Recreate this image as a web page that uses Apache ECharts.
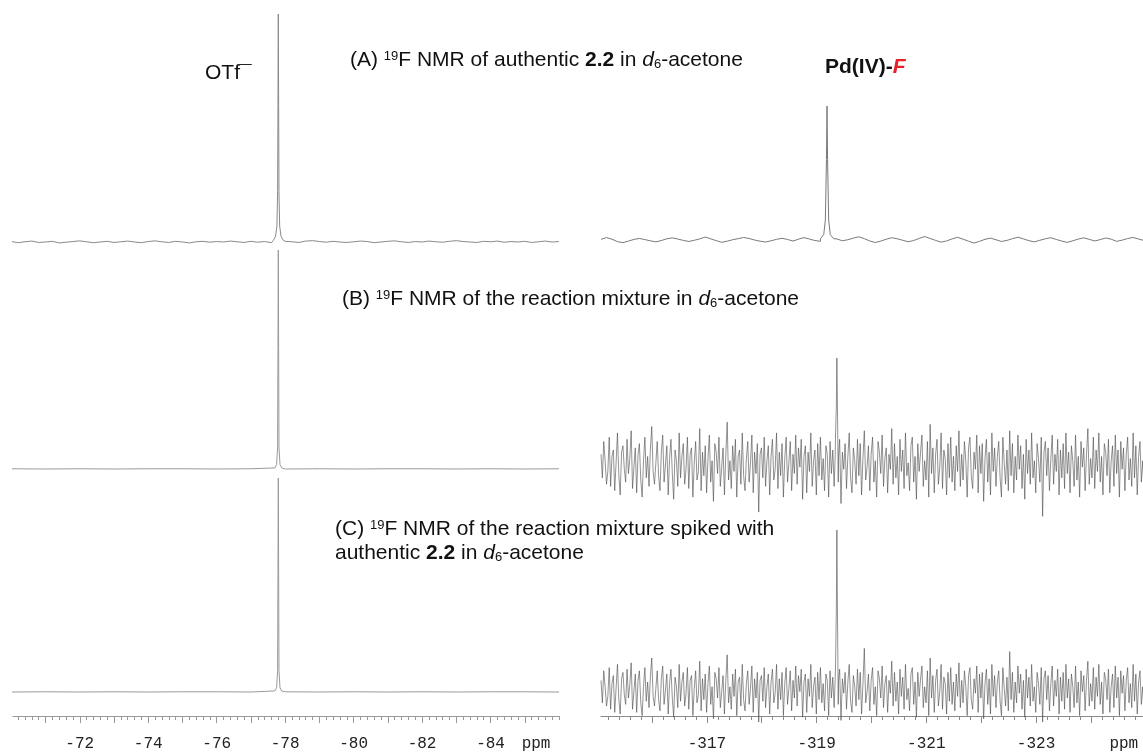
<!DOCTYPE html>
<html>
<head>
<meta charset="utf-8">
<script src="https://cdn.jsdelivr.net/npm/echarts@6/dist/echarts.min.js"></script>
<style>
    html, body { margin: 0; padding: 0; background: #fff; }
    #chart { width: 1143px; height: 755px; }
</style>
</head>
<body>
<div id="chart"></div>
<script>
// ppm windows of the two columns (axes are reversed, as in NMR)
const leftRange = [-86.0, -70.05];
const rightRange = [-324.95, -315.07];

// tick labels
const leftTickLabels = [-72, -74, -76, -78, -80, -82, -84];
const rightTickLabels = [-317, -319, -321, -323];
const leftPpmAt = -85.33;
const rightPpmAt = -324.6;

// baselines, sampled on a regular ppm step from the left edge (intensity: peak top = 100)
const leftStart = -70.0;
const leftStep = 0.2;
const leftABase = [
    0.2,-0.3,0.1,0.4,-0.2,0.0,0.3,-0.4,-0.1,0.2,0.5,0.1,-0.3,0.0,0.3,-0.2,0.1,0.4,0.0,-0.3,
    0.2,0.5,0.1,-0.2,0.3,0.0,-0.4,0.1,0.3,-0.1,0.2,0.0,0.4,0.1,-0.2,0.3,-0.1,0.2,-0.3,0.0,
    0.3,0.1,-0.2,0.4,0.6,0.2,-0.1,0.3,0.0,-0.2,0.1,0.4,0.2,-0.3,0.0,0.3,0.5,0.1,-0.2,0.2,
    0.0,0.4,0.1,-0.1,0.3,0.6,0.2,0.0,-0.2,0.3,0.1,0.4,-0.1,0.2,0.0,0.3,-0.2,0.1,0.4,0.0,0.2
];
const leftFlatStep = 1.0;
const leftBBase = [0.1,0.0,0.1,0.0,0.1,0.1,0.0,0.1,0.0,0.1,0.0,0.1,0.1,0.0,0.1,0.0,0.1];
const leftCBase = [0.0,0.1,0.0,0.1,0.0,0.1,0.1,0.0,0.1,0.0,0.1,0.0,0.1,0.0,0.1,0.1,0.0];

// peaks [ppm, intensity]
const leftAPeak = [[-77.66,0.8],[-77.72,2.5],[-77.76,7],[-77.78,22],[-77.79,60],[-77.80,100],
    [-77.81,60],[-77.82,22],[-77.84,7],[-77.88,2.5],[-77.94,0.8]];
const leftBPeak = [[-77.70,0.5],[-77.75,2],[-77.78,10],[-77.79,55],[-77.80,100],[-77.81,55],
    [-77.82,10],[-77.85,2],[-77.90,0.5]];
const leftCPeak = [[-77.70,0.5],[-77.75,2],[-77.78,10],[-77.79,55],[-77.80,100],[-77.81,55],
    [-77.82,10],[-77.85,2],[-77.90,0.5]];

const rightStart = -315.07;
const rightAStep = 0.1;
const rightABase = [
    0.5,1.8,0.6,-1.2,-2.0,-0.8,0.4,1.2,0.3,-0.6,
    -1.4,-0.4,0.9,1.6,0.7,-0.3,-1.1,-0.2,0.8,2.2,
    0.9,-0.5,-1.7,-0.9,0.2,1.0,1.9,1.1,0.0,-0.9,
    -1.5,-0.6,0.5,1.3,0.4,-0.8,0.6,1.8,0.7,-0.4,
    -1.0,0.3,1.5,0.8,-0.6,0.2,1.4,2.4,1.0,-0.7,
    -1.9,-0.8,0.6,1.7,0.9,-0.2,-1.3,-0.4,1.2,2.6,
    1.1,-0.3,-1.6,-0.7,0.8,2.0,0.6,-0.9,-2.3,-1.0,
    0.5,1.4,0.2,-1.1,-0.3,1.0,2.1,0.8,-0.5,-1.4,
    -0.2,0.9,1.7,0.4,-0.8,-1.8,-0.6,0.7,1.6,0.5,
    -0.7,0.3,1.5,0.6,-1.0,-0.1,1.1,1.9,0.7,-0.4,0.3
];
const rightAPeak = [[-319.07,1],[-319.13,4],[-319.16,15],[-319.18,60],[-319.19,100],
    [-319.20,60],[-319.22,15],[-319.25,4],[-319.31,1]];

const rightNoiseStep = 0.025;
const rightBBase = [
    10,-12,22,4,-18,-6,26,-20,8,14,-24,2,30,-10,-28,12,18,-4,-16,24,
    -8,6,32,-22,-2,16,-26,10,20,-14,-30,4,26,-12,8,-20,14,36,-6,-18,
    2,22,-10,-24,12,28,-16,0,18,-28,6,24,-8,-32,14,4,-20,30,-12,8,
    20,-18,-4,26,-22,10,16,-30,2,22,-14,-6,34,-24,12,-10,18,-26,6,28,
    -16,4,-34,20,12,-8,26,-20,-2,16,-28,10,40,-14,4,-22,18,-6,24,-30,
    8,14,-18,30,-10,-24,6,22,-16,2,28,-26,12,-8,20,-44,10,16,-12,26,
    -20,4,18,-28,8,24,-14,-4,30,-22,12,-10,20,-30,6,26,-16,2,22,-24,
    10,-8,28,-18,16,-2,24,-32,8,18,-26,12,-6,30,-20,4,14,-28,20,-10,
    26,-14,6,-24,18,10,-30,22,-8,14,-20,28,2,-16,24,-36,12,-4,20,-22,
    8,30,-12,-26,16,4,-18,24,-10,20,-28,6,32,-14,-2,18,-24,10,26,-16,
    4,-30,22,12,-8,28,-20,6,16,-26,10,-4,34,-18,20,-12,8,-28,24,-6,
    14,-22,30,-10,2,-24,18,26,-16,8,-32,20,-6,12,28,-20,4,-14,22,-30,
    38,-8,16,-26,10,24,-18,-2,30,-22,14,6,-28,20,-12,26,-16,8,-24,18,
    -6,32,-20,10,-14,22,4,-30,16,26,-10,-22,12,-4,28,-26,18,-8,20,-34,
    6,24,-16,12,-28,30,-6,16,-20,8,22,-12,-30,26,2,-18,14,-24,32,-10,
    20,-26,8,-14,28,-4,18,-22,10,-32,24,-8,14,-18,30,-12,4,-26,20,6,
    -16,26,-48,12,22,-10,16,-24,6,28,-18,10,-6,24,-28,14,-12,20,-22,30,
    -8,12,-26,18,4,-20,28,-14,8,-30,22,-2,16,-24,10,34,-18,6,-12,26,
    -22,14,-6,30,-16,8,-28,20,12,-10,24,-26,4,18,-20,28,-8,14,-30,22,
    -4,16,-24,10,26,-14,6,-20,30,-12,18,-28,8,22,-16,4,-26,20,-10,12,
    6
];
const rightBPeak = [[-319.34,10],[-319.36,55],[-319.37,100],[-319.38,55],[-319.40,8]];

const rightCBase = [
    6,-8,12,2,-10,-4,14,-12,4,9,-14,1,16,-6,-15,7,11,-3,-9,13,
    -5,3,17,-12,-1,10,-14,6,12,-8,-16,2,14,-7,5,-11,8,20,-4,-10,
    1,12,-6,-13,7,15,-9,0,10,-15,4,13,-5,-17,8,2,-11,16,-7,5,
    11,-10,-2,14,-12,6,9,-16,1,12,-8,-3,18,-13,7,-6,10,-14,4,15,
    -9,2,-18,11,7,-5,14,-11,-1,9,-15,6,22,-8,2,-12,10,-4,13,-16,
    5,8,-10,16,-6,-13,4,12,-9,1,15,-14,7,-5,11,-20,6,9,-7,14,
    -11,2,10,-15,5,13,-8,-2,16,-12,7,-6,11,-16,4,14,-9,1,12,-13,
    6,-5,15,-10,9,-1,13,-17,5,10,-14,7,-4,16,-11,2,8,-15,11,-6,
    14,-8,4,-13,10,6,-16,12,-5,8,-11,15,1,-9,13,-19,7,-2,11,-12,
    5,16,-7,-14,9,2,-10,13,-6,11,-15,4,26,-8,-1,10,-13,6,14,-9,
    2,-16,12,7,-5,15,-11,4,9,-14,6,-2,18,-10,11,-7,5,-15,13,-4,
    8,-12,16,-6,1,-13,10,14,-9,5,-17,11,-4,7,15,-11,2,-8,12,-16,
    20,-5,9,-14,6,13,-10,-1,16,-12,8,4,-15,11,-7,14,-9,5,-13,10,
    -4,17,-11,6,-8,12,2,-16,9,14,-6,-12,7,-2,15,-14,10,-5,11,-18,
    4,13,-9,7,-15,16,-4,9,-11,5,12,-7,-16,14,1,-10,8,-13,24,-6,
    11,-14,5,-8,15,-2,10,-12,6,-17,13,-5,8,-10,16,-7,2,-14,11,4,
    -9,14,-20,7,12,-6,9,-13,4,15,-10,6,-4,13,-15,8,-7,11,-12,16,
    -5,7,-14,10,2,-11,15,-8,5,-16,12,-1,9,-13,6,18,-10,4,-7,14,
    -12,8,-4,16,-9,5,-15,11,7,-6,13,-14,2,10,-11,15,-5,8,-16,12,
    -2,9,-13,6,14,-8,4,-11,16,-7,10,-15,5,12,-9,2,-14,11,-6,7,
    3
];
const rightCPeak = [[-319.34,8],[-319.36,50],[-319.37,100],[-319.38,50],[-319.40,6]];

// merge a sampled baseline with a peak, dropping baseline samples under the peak
function trace(start, step, base, peak, gap) {
    let top = peak.reduce((a, p) => (p[1] > a[1] ? p : a), peak[0]);
    let pts = [];
    base.forEach((v, i) => {
        let x = +(start - i * step).toFixed(3);
        if (Math.abs(x - top[0]) > gap) pts.push([x, v]);
    });
    peak.forEach(p => pts.push(p));
    pts.sort((a, b) => b[0] - a[0]);
    return pts;
}

function tickList(from, to, step) {
    let out = [];
    for (let v = from; v >= to - 1e-9; v -= step) out.push(+v.toFixed(2));
    return out;
}

// panels: top pixel of the peak (p100), baseline pixel (p0)
const LEFT = {left: 13, width: 546};
const RIGHT = {left: 601, width: 542};
const panels = [
    {col: LEFT,  range: leftRange,  p100: 14,  p0: 242, yMin: -5,  color: '#8a8a8a', w: 1,
        data: trace(leftStart, leftStep, leftABase, leftAPeak, 0.15)},
    {col: LEFT,  range: leftRange,  p100: 250, p0: 469, yMin: -5,  color: '#9a9a9a', w: 1,
        data: trace(leftStart, leftFlatStep, leftBBase, leftBPeak, 0.15)},
    {col: LEFT,  range: leftRange,  p100: 478, p0: 692, yMin: -5,  color: '#9a9a9a', w: 1,
        data: trace(leftStart, leftFlatStep, leftCBase, leftCPeak, 0.15)},
    {col: RIGHT, range: rightRange, p100: 106, p0: 240, yMin: -5,  color: '#7a7a7a', w: 1,
        data: trace(rightStart, rightAStep, rightABase, rightAPeak, 0.12)},
    {col: RIGHT, range: rightRange, p100: 358, p0: 465, yMin: -60, color: '#4a4a4a', w: 0.6,
        data: trace(rightStart, rightNoiseStep, rightBBase, rightBPeak, 0.02)},
    {col: RIGHT, range: rightRange, p100: 530, p0: 690, yMin: -30, color: '#4a4a4a', w: 0.6,
        data: trace(rightStart, rightNoiseStep, rightCBase, rightCPeak, 0.02)}
];

const grids = [], xAxes = [], yAxes = [], series = [];
panels.forEach((p, i) => {
    grids.push({
        left: p.col.left, width: p.col.width, top: p.p100,
        height: (p.p0 - p.p100) * (100 - p.yMin) / 100,
        containLabel: false, outerBoundsMode: 'none'
    });
    xAxes.push({gridIndex: i, type: 'value', min: p.range[0], max: p.range[1], inverse: true, show: false});
    yAxes.push({gridIndex: i, type: 'value', min: p.yMin, max: 100, show: false});
    series.push({
        type: 'line', xAxisIndex: i, yAxisIndex: i, data: p.data,
        symbol: 'none', showSymbol: false, silent: true, clip: false,
        lineStyle: {color: p.color, width: p.w}
    });
});

// bottom ppm axes: one grid for the fine ticks + labels, one overlay for the 1 ppm ticks
const monoFont = 'Liberation Mono';
function axisPair(col, range, labels, ppmAt, lineColor, fineTicks, coarseTicks) {
    let gi = grids.length;
    grids.push({left: col.left, width: col.width, top: 700, height: 16, containLabel: false, outerBoundsMode: 'none'});
    grids.push({left: col.left, width: col.width, top: 700, height: 16, containLabel: false, outerBoundsMode: 'none'});
    yAxes.push({gridIndex: gi, type: 'value', show: false});
    yAxes.push({gridIndex: gi + 1, type: 'value', show: false});
    xAxes.push({
        gridIndex: gi, type: 'value', min: range[0], max: range[1], inverse: true, position: 'bottom',
        axisLine: {show: true, lineStyle: {color: lineColor, width: 1}},
        axisTick: {show: true, length: 4, lineStyle: {color: lineColor}, customValues: fineTicks},
        axisLabel: {
            customValues: labels.concat([ppmAt]),
            formatter: v => (v === ppmAt ? 'ppm' : String(v)),
            fontFamily: monoFont, fontSize: 16, color: '#222', margin: 20
        },
        splitLine: {show: false}
    });
    xAxes.push({
        gridIndex: gi + 1, type: 'value', min: range[0], max: range[1], inverse: true, position: 'bottom',
        axisLine: {show: false},
        axisTick: {show: true, length: 7, lineStyle: {color: lineColor}, customValues: coarseTicks},
        axisLabel: {show: false},
        splitLine: {show: false}
    });
}
axisPair(LEFT, leftRange, leftTickLabels, leftPpmAt, '#9a9a9a',
    tickList(-70.2, -86.0, 0.2), tickList(-71, -85, 1));
axisPair(RIGHT, rightRange, rightTickLabels, rightPpmAt, '#8a8a8a',
    tickList(-315.2, -324.8, 0.2), tickList(-316, -324, 1));

// annotations
const sans = 'Liberation Sans';
function rich(size) {
    let s = Math.round(size * 0.62);
    return {
        sup: {fontFamily: sans, fontSize: s, verticalAlign: 'top', fill: '#111'},
        sub: {fontFamily: sans, fontSize: s, verticalAlign: 'bottom', fill: '#111'},
        b: {fontFamily: sans, fontSize: size, fontWeight: 'bold', fill: '#111'},
        i: {fontFamily: sans, fontSize: size, fontStyle: 'italic', fill: '#111'},
        r: {fontFamily: sans, fontSize: size, fontWeight: 'bold', fontStyle: 'italic', fill: '#e8202a'}
    };
}
function label(x, y, text, size) {
    return {
        type: 'text', left: x, top: y, silent: true,
        style: {text: text, fontFamily: sans, fontSize: size, fill: '#111', rich: rich(size)}
    };
}

const chart = echarts.init(document.getElementById('chart'), null, {renderer: 'canvas'});
chart.setOption({
    animation: false,
    backgroundColor: '#fff',
    grid: grids,
    xAxis: xAxes,
    yAxis: yAxes,
    series: series,
    graphic: [
        label(205, 63, 'OTf\u00AF', 21),
        label(350, 50, '(A) {sup|19}F NMR of authentic {b|2.2} in {i|d}{sub|6}-acetone', 21),
        label(825, 57, '{b|Pd(IV)-}{r|F}', 21),
        label(342, 289, '(B) {sup|19}F NMR of the reaction mixture in {i|d}{sub|6}-acetone', 21),
        label(335, 519, '(C) {sup|19}F NMR of the reaction mixture spiked with', 21),
        label(335, 543, 'authentic {b|2.2} in {i|d}{sub|6}-acetone', 21)
    ]
});
</script>
</body>
</html>
